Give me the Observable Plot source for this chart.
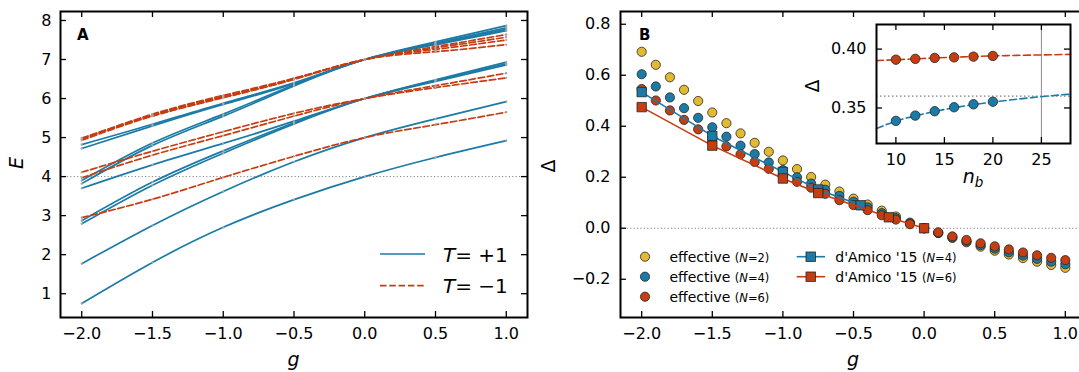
<!DOCTYPE html>
<html><head><meta charset="utf-8">
<script src="https://cdn.jsdelivr.net/npm/d3@7"></script>
<script src="https://cdn.jsdelivr.net/npm/@observablehq/plot@0.6"></script>
<style>
html,body{margin:0;padding:0;background:#fff;overflow:hidden;width:1079px;height:372px}
#wrap{position:relative;width:1079px;height:372px;overflow:hidden}
#wrap svg{position:absolute;top:0;max-width:none}
</style></head><body><div id="wrap"></div>
<script>
// ---------- Panel A data ----------
const gA = [-2, -1.5, -1, -0.5, 0, 0.5, 1];
// T = +1 (solid blue)
const b1 = [0.75, 1.80, 2.70, 3.41, 4.00, 4.49, 4.92];
const b2 = [1.77, 2.75, 3.62, 4.38, 5.00, 5.48, 5.92];
const b3 = [2.79, 3.78, 4.60, 5.35, 6.00, 6.48, 6.93];
const b4 = [2.87, 3.86, 4.66, 5.38, 6.00, 6.46, 6.89];
const b5 = [3.70, 4.30, 4.85, 5.42, 6.00, 6.44, 6.86];
const b6 = [3.82, 4.80, 5.55, 6.32, 7.00, 7.45, 7.87];
const b7 = [3.90, 4.86, 5.60, 6.35, 7.00, 7.42, 7.81];
const b8 = [4.72, 5.30, 5.85, 6.38, 7.00, 7.40, 7.77];
const b9 = [4.82, 5.34, 5.88, 6.40, 7.00, 7.38, 7.74];
// T = -1 (dashed red)
const r1 = [2.95, 3.42, 3.98, 4.52, 5.00, 5.33, 5.65];
const r2 = [3.97, 4.55, 5.05, 5.55, 6.00, 6.33, 6.65];
const r3 = [4.11, 4.65, 5.15, 5.62, 6.00, 6.28, 6.53];
const r4 = [4.97, 5.60, 6.08, 6.52, 7.00, 7.33, 7.64];
const r5 = [4.95, 5.58, 6.06, 6.51, 7.00, 7.30, 7.57];
const r6 = [4.99, 5.56, 6.03, 6.49, 7.00, 7.26, 7.50];
const r7 = [4.93, 5.55, 6.02, 6.50, 7.00, 7.20, 7.38];
const xTicks = [-2, -1.5, -1, -0.5, 0, 0.5, 1];
const yTicksA = [1, 2, 3, 4, 5, 6, 7, 8];

// ---------- Panel B data ----------
const gB = [-2.0,-1.9,-1.8,-1.7,-1.6,-1.5,-1.4,-1.3,-1.2,-1.1,-1.0,-0.9,-0.8,-0.7,-0.6,-0.5,-0.4,-0.3,-0.2,-0.1,0.0,0.1,0.2,0.3,0.4,0.5,0.6,0.7,0.8,0.9,1.0];
const effN2 = [0.692,0.641,0.592,0.543,0.499,0.454,0.412,0.372,0.335,0.300,0.266,0.232,0.201,0.171,0.144,0.116,0.093,0.069,0.046,0.022,0.000,-0.019,-0.038,-0.055,-0.072,-0.088,-0.103,-0.117,-0.131,-0.144,-0.155];
const effN4 = [0.604,0.556,0.513,0.471,0.433,0.396,0.359,0.324,0.291,0.258,0.228,0.200,0.175,0.151,0.127,0.104,0.082,0.059,0.040,0.019,0.000,-0.018,-0.035,-0.051,-0.066,-0.080,-0.094,-0.107,-0.120,-0.131,-0.141];
const effN6 = [0.546,0.501,0.462,0.425,0.388,0.355,0.321,0.290,0.260,0.233,0.205,0.182,0.159,0.135,0.110,0.091,0.071,0.051,0.034,0.016,0.000,-0.016,-0.032,-0.046,-0.059,-0.071,-0.083,-0.095,-0.106,-0.116,-0.125];
const dAmicoG4 = [-2.0, -1.5, -1.0, -0.75, -0.45];
const dAmicoN4 = [0.534, 0.362, 0.221, 0.152, 0.090];
const dAmicoG6 = [-2.0, -1.5, -1.0, -0.75, -0.25, 0.0];
const dAmicoN6 = [0.475, 0.324, 0.195, 0.138, 0.043, 0.000];
const yTicksB = [-0.2, 0, 0.2, 0.4, 0.6, 0.8];

// ---------- Inset data ----------
const nb = [10, 12, 14, 16, 18, 20];
const insetN6 = [0.3910, 0.3917, 0.3925, 0.3930, 0.3936, 0.3942];
const insetN4 = [0.3390, 0.3435, 0.3472, 0.3506, 0.3531, 0.3553];
const nFit = [8, 10, 12, 14, 16, 18, 20, 22, 24, 26, 28];
const fitN6 = [0.3902, 0.3910, 0.3917, 0.3925, 0.3931, 0.3937, 0.3942, 0.3946, 0.3949, 0.3952, 0.3955];
const fitN4 = [0.3325, 0.3388, 0.3433, 0.3470, 0.3502, 0.3528, 0.3550, 0.3570, 0.3588, 0.3604, 0.3618];
const xTicksIn = [10, 15, 20, 25];
const yTicksIn = [0.35, 0.40];

// ---------- styles ----------
const BLUE = "#1B7BA6", RED = "#C63D12", YEL = "#E3B932", EDGE = "#262626";
const FONT = "DejaVu Sans";
const TICKFS = 16;

function table(xs, ys, id) { return xs.map((x, i) => ({x, y: ys[i], id})); }
function frameTicks(xt, yt, fw, fh, len = 6) {
  const o = {stroke: "#000", strokeWidth: 1.3};
  return [
    Plot.ruleX(xt, {x: d => d, insetTop: fh - len, ...o}),
    Plot.ruleX(xt, {x: d => d, insetBottom: fh - len, ...o}),
    Plot.ruleY(yt, {y: d => d, insetRight: fw - len, ...o}),
    Plot.ruleY(yt, {y: d => d, insetLeft: fw - len, ...o})
  ];
}
const wrap = document.getElementById("wrap");
const svgStyle = {background: "transparent", fontFamily: FONT, fontSize: TICKFS + "px", overflow: "visible"};

// ---------- Panel A ----------
const blueRows = [b1,b2,b3,b4,b5,b6,b7,b8,b9].flatMap((a, i) => table(gA, a, "b" + i));
const redRows = [r1,r2,r3,r4,r5,r6,r7].flatMap((a, i) => table(gA, a, "r" + i));
const A = {w: 540, h: 372, ml: 60, mr: 13, mt: 11, mb: 55};
const plotA = Plot.plot({
  width: A.w, height: A.h, marginLeft: A.ml, marginRight: A.mr, marginTop: A.mt, marginBottom: A.mb,
  style: svgStyle,
  x: {domain: [-2.15, 1.15], label: null},
  y: {domain: [0.39, 8.23], label: null},
  marks: [
    Plot.ruleY([4], {stroke: "#808080", strokeWidth: 1, strokeDasharray: "1.2,2.2"}),
    Plot.line(blueRows, {x: "x", y: "y", z: "id", stroke: BLUE, strokeWidth: 1.7, curve: "natural"}),
    Plot.line(redRows, {x: "x", y: "y", z: "id", stroke: RED, strokeWidth: 1.7, strokeDasharray: "6.5,2.8", curve: "natural"}),
    Plot.dot(blueRows.concat(redRows), {x: "x", y: "y", r: 1.1, fill: "#a8a8a8", stroke: null}),
    Plot.frame({stroke: "#000", strokeWidth: 2}),
    ...frameTicks(xTicks, yTicksA, A.w - A.ml - A.mr, A.h - A.mt - A.mb),
    Plot.axisX(xTicks, {tickSize: 0, tickPadding: 10, tickFormat: d3.format(".1f"), label: null, fontSize: TICKFS}),
    Plot.axisY(yTicksA, {tickSize: 0, tickPadding: 9, tickFormat: d3.format("d"), label: null, fontSize: TICKFS})
  ]
});
plotA.style.left = "0px";
wrap.appendChild(plotA);

// ---------- Panel B ----------
const B = {w: 560, h: 372, ml: 80, mr: 14, mt: 11, mb: 55};
const plotB = Plot.plot({
  width: B.w, height: B.h, marginLeft: B.ml, marginRight: B.mr, marginTop: B.mt, marginBottom: B.mb,
  style: svgStyle,
  x: {domain: [-2.15, 1.15], label: null},
  y: {domain: [-0.35, 0.85], label: null},
  marks: [
    Plot.ruleY([0], {stroke: "#808080", strokeWidth: 1, strokeDasharray: "1.2,2.2"}),
    Plot.dot(table(gB, effN2, "N2"), {x: "x", y: "y", r: 4.6, fill: YEL, stroke: EDGE, strokeWidth: 0.8}),
    Plot.dot(table(gB, effN4, "N4"), {x: "x", y: "y", r: 4.6, fill: BLUE, stroke: EDGE, strokeWidth: 0.8}),
    Plot.dot(table(gB, effN6, "N6"), {x: "x", y: "y", r: 4.6, fill: RED, stroke: EDGE, strokeWidth: 0.8}),
    Plot.line(table(dAmicoG4, dAmicoN4, "d4"), {x: "x", y: "y", stroke: BLUE, strokeWidth: 1.6}),
    Plot.dot(table(dAmicoG4, dAmicoN4, "d4"), {x: "x", y: "y", symbol: "square", r: 5.3, fill: BLUE, stroke: EDGE, strokeWidth: 0.8}),
    Plot.line(table(dAmicoG6, dAmicoN6, "d6"), {x: "x", y: "y", stroke: RED, strokeWidth: 1.6}),
    Plot.dot(table(dAmicoG6, dAmicoN6, "d6"), {x: "x", y: "y", symbol: "square", r: 5.3, fill: RED, stroke: EDGE, strokeWidth: 0.8}),
    Plot.frame({stroke: "#000", strokeWidth: 2}),
    ...frameTicks(xTicks, yTicksB, B.w - B.ml - B.mr, B.h - B.mt - B.mb),
    Plot.axisX(xTicks, {tickSize: 0, tickPadding: 10, tickFormat: d3.format(".1f"), label: null, fontSize: TICKFS}),
    Plot.axisY(yTicksB, {tickSize: 0, tickPadding: 10, tickFormat: d3.format(".1f"), label: null, fontSize: TICKFS})
  ]
});
plotB.style.left = "540px";
wrap.appendChild(plotB);

// ---------- Inset ----------
const I = {w: 279, h: 200, ml: 76, mr: 9, mt: 24, mb: 57};
const plotI = Plot.plot({
  width: I.w, height: I.h, marginLeft: I.ml, marginRight: I.mr, marginTop: I.mt, marginBottom: I.mb,
  style: svgStyle,
  x: {domain: [8, 28], label: null},
  y: {domain: [0.3198, 0.4209], label: null},
  marks: [
    Plot.frame({fill: "#fff"}),
    Plot.ruleY([0.36], {stroke: "#808080", strokeWidth: 1.3, strokeDasharray: "1.5,2.5"}),
    Plot.ruleX([25], {stroke: "#8c8c8c", strokeWidth: 1}),
    Plot.line(table(nFit, fitN6, "f6"), {x: "x", y: "y", stroke: RED, strokeWidth: 1.6, strokeDasharray: "7,3.5", curve: "natural"}),
    Plot.line(table(nFit, fitN4, "f4"), {x: "x", y: "y", stroke: BLUE, strokeWidth: 1.6, strokeDasharray: "7,3.5", curve: "natural"}),
    Plot.dot(table(nb, insetN6, "i6"), {x: "x", y: "y", r: 4.7, fill: RED, stroke: EDGE, strokeWidth: 0.8}),
    Plot.dot(table(nb, insetN4, "i4"), {x: "x", y: "y", r: 4.7, fill: BLUE, stroke: EDGE, strokeWidth: 0.8}),
    Plot.frame({stroke: "#000", strokeWidth: 2}),
    ...frameTicks(xTicksIn, yTicksIn, I.w - I.ml - I.mr, I.h - I.mt - I.mb),
    Plot.axisX(xTicksIn, {tickSize: 0, tickPadding: 10, tickFormat: d3.format("d"), label: null, fontSize: TICKFS}),
    Plot.axisY(yTicksIn, {tickSize: 0, tickPadding: 10, tickFormat: d3.format(".2f"), label: null, fontSize: TICKFS})
  ]
});
plotI.style.left = "800px";
wrap.appendChild(plotI);

// ---------- labels & legends (decorations) ----------
function txt(svg, x, y, parts, opts = {}) {
  const t = d3.select(svg).append("text").attr("x", x).attr("y", y)
    .attr("font-family", FONT).attr("text-anchor", opts.anchor || "start").attr("fill", "#000");
  if (opts.rotate) t.attr("transform", `rotate(${opts.rotate},${x},${y})`);
  parts.forEach(p => {
    const s = t.append("tspan").text(p.t).attr("font-size", p.fs || 15);
    if (p.i) s.attr("font-style", "italic");
    if (p.b) s.attr("font-weight", "bold");
    if (p.dy) s.attr("dy", p.dy);
  });
  return t;
}
// Panel A
txt(plotA, 77, 40, [{t: "A", b: 1, fs: 15}]);
txt(plotA, 293.5, 366, [{t: "g", i: 1, fs: 19}], {anchor: "middle"});
txt(plotA, 23, 163, [{t: "E", i: 1, fs: 19}], {anchor: "middle", rotate: -90});
{
  const s = d3.select(plotA);
  s.append("line").attr("x1", 380).attr("x2", 425).attr("y1", 254).attr("y2", 254).attr("stroke", BLUE).attr("stroke-width", 1.7);
  s.append("line").attr("x1", 380).attr("x2", 425).attr("y1", 285.7).attr("y2", 285.7).attr("stroke", RED).attr("stroke-width", 1.7).attr("stroke-dasharray", "6.5,2.8");
  txt(plotA, 443, 261.5, [{t: "T", i: 1, fs: 20}, {t: "= +1", fs: 20}]);
  txt(plotA, 443, 292.7, [{t: "T", i: 1, fs: 20}, {t: "= \u22121", fs: 20}]);
}
// Panel B
txt(plotB, 639 - 540, 40, [{t: "B", b: 1, fs: 15}]);
txt(plotB, 853 - 540, 366, [{t: "g", i: 1, fs: 19}], {anchor: "middle"});
txt(plotB, 555 - 540, 166, [{t: "\u0394", fs: 19}], {anchor: "middle", rotate: -90});
{
  const s = d3.select(plotB);
  const rows = [[256.7, YEL, "2"], [276.7, BLUE, "4"], [296.7, RED, "6"]];
  rows.forEach(([y, c, n]) => {
    s.append("circle").attr("cx", 645 - 540).attr("cy", y).attr("r", 4.6).attr("fill", c).attr("stroke", EDGE).attr("stroke-width", 0.8);
    txt(plotB, 669.5 - 540, y + 5, [{t: "effective ", fs: 14}, {t: "(", fs: 11.5}, {t: "N", i: 1, fs: 11.5}, {t: "=" + n + ")", fs: 11.5}]);
  });
  const rows2 = [[256.7, BLUE, "4"], [276.7, RED, "6"]];
  rows2.forEach(([y, c, n]) => {
    s.append("line").attr("x1", 796.7 - 540).attr("x2", 825 - 540).attr("y1", y).attr("y2", y).attr("stroke", c).attr("stroke-width", 1.6);
    s.append("rect").attr("x", 810.7 - 540 - 4.7).attr("y", y - 4.7).attr("width", 9.4).attr("height", 9.4).attr("fill", c).attr("stroke", EDGE).attr("stroke-width", 0.8);
    txt(plotB, 835.3 - 540, y + 5, [{t: "d'Amico '15 ", fs: 14}, {t: "(", fs: 11.5}, {t: "N", i: 1, fs: 11.5}, {t: "=" + n + ")", fs: 11.5}]);
  });
}
// Inset
txt(plotI, 819 - 800, 86, [{t: "\u0394", fs: 19}], {anchor: "middle", rotate: -90});
txt(plotI, 973 - 800, 183, [{t: "n", i: 1, fs: 19}, {t: "b", i: 1, fs: 13.5, dy: 4}], {anchor: "middle"});
</script></body></html>
